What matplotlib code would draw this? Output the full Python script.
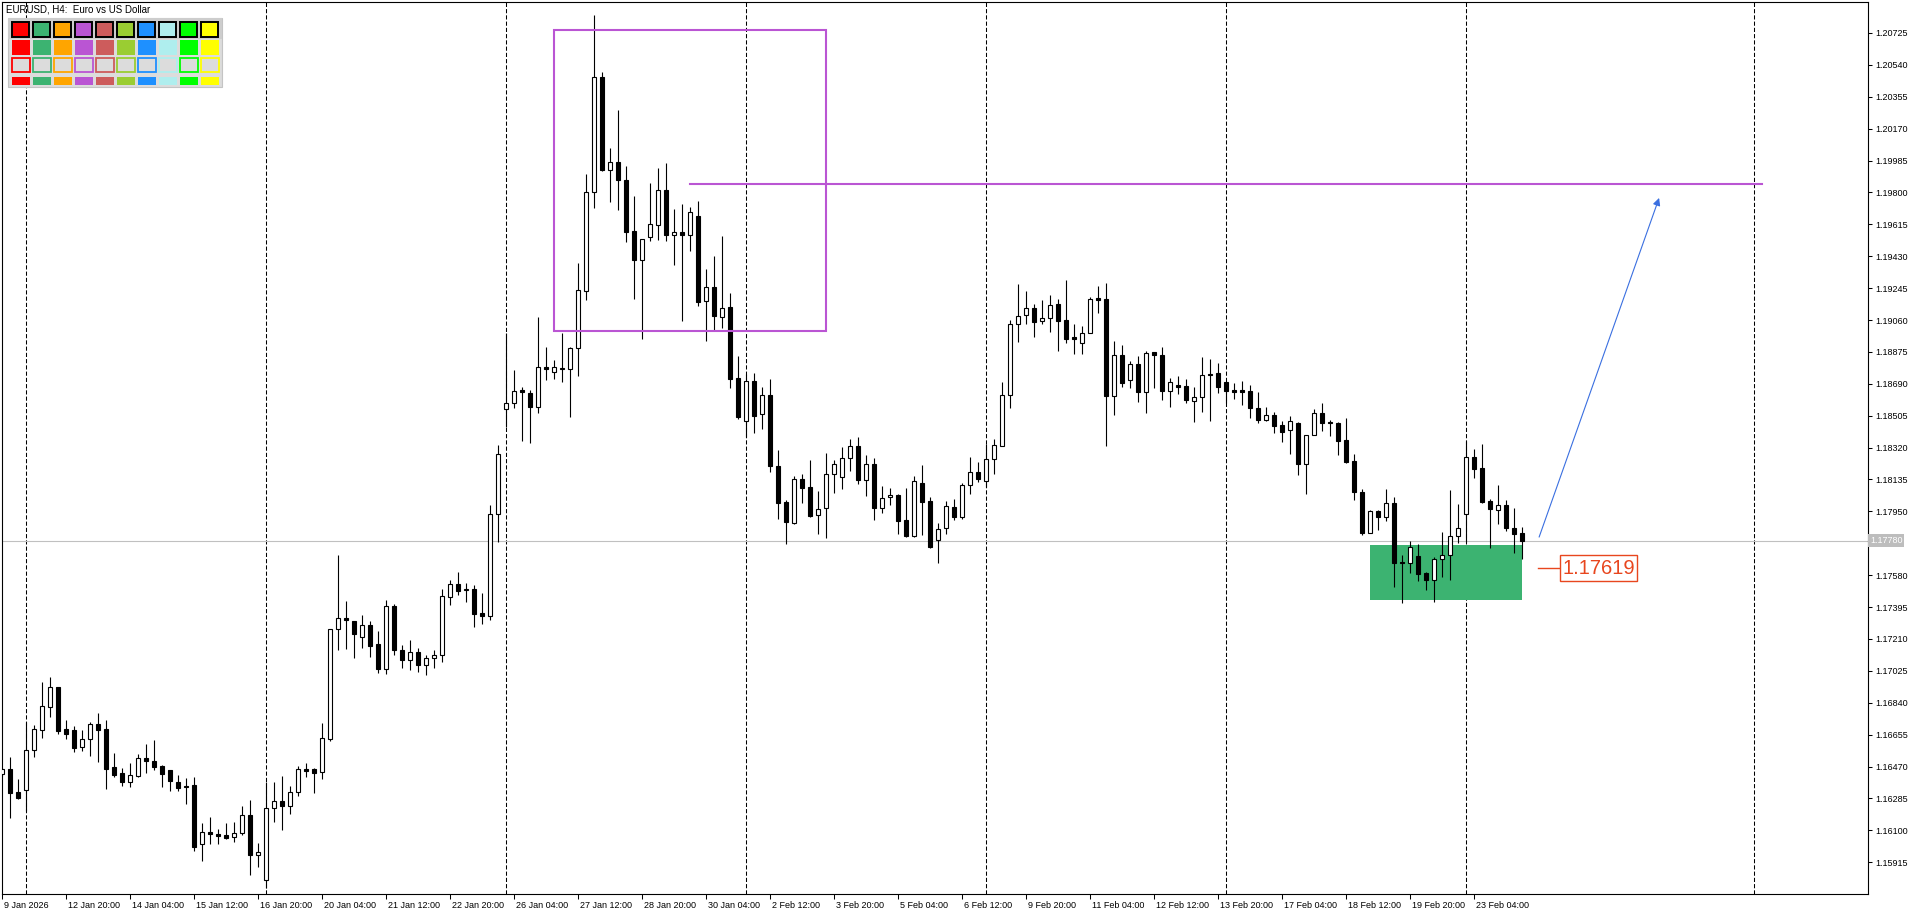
import matplotlib
matplotlib.use("Agg")
import matplotlib.pyplot as plt
from matplotlib.patches import Rectangle
import matplotlib.transforms as mtransforms
import numpy as np

plt.rcParams['font.family'] = ['Liberation Sans', 'DejaVu Sans']

# ---------------- data (EURUSD H4 candles) ----------------
opens = [1.16427,1.16456,1.16322,1.16334,1.16566,1.16682,1.16815,1.16931,1.16688,1.16682,
         1.16583,1.16630,1.16717,1.16688,1.16467,1.16433,1.16380,1.16415,1.16520,1.16502,
         1.16473,1.16450,1.16380,1.16357,1.16363,1.16021,1.16090,1.16079,1.16073,1.16061,
         1.16085,1.16189,1.15957,1.15812,1.16230,1.16270,1.16241,1.16322,1.16456,1.16456,
         1.16438,1.16630,1.17268,1.17332,1.17314,1.17221,1.17291,1.17181,1.17036,1.17401,
         1.17146,1.17088,1.17134,1.17059,1.17100,1.17117,1.17453,1.17529,1.17494,1.17500,
         1.17361,1.17343,1.17935,1.18544,1.18579,1.18654,1.18637,1.18555,1.18787,1.18758,
         1.18776,1.18776,1.18898,1.19228,1.19802,1.20469,1.19930,1.19976,1.19872,1.19576,
         1.19408,1.19541,1.19611,1.19814,1.19553,1.19570,1.19553,1.19663,1.19170,1.19251,
         1.19077,1.19135,1.18724,1.18474,1.18706,1.18515,1.18625,1.18213,1.18004,1.17883,
         1.18138,1.18091,1.17929,1.17970,1.18167,1.18149,1.18260,1.18329,1.18132,1.18225,
         1.17970,1.18033,1.18045,1.17900,1.17807,1.18115,1.18010,1.17784,1.17854,1.17975,
         1.17917,1.18103,1.18178,1.18126,1.18254,1.18329,1.18625,1.19037,1.19089,1.19130,
         1.19054,1.19072,1.19153,1.19060,1.18961,1.18927,1.18985,1.19188,1.19182,1.18619,
         1.18857,1.18712,1.18805,1.18642,1.18874,1.18857,1.18648,1.18683,1.18677,1.18590,
         1.18613,1.18747,1.18753,1.18700,1.18654,1.18654,1.18648,1.18550,1.18480,1.18509,
         1.18451,1.18422,1.18463,1.18225,1.18393,1.18521,1.18468,1.18463,1.18364,1.18242,
         1.18062,1.17825,1.17952,1.17917,1.17999,1.17656,1.17651,1.17691,1.17593,1.17552,
         1.17674,1.17697,1.17807,1.17935,1.18265,1.18202,1.18010,1.17958,1.17987,1.17854,
         1.17825]
highs = [1.16462,1.16525,1.16398,1.16728,1.16711,1.16960,1.16989,1.16931,1.16740,1.16705,
         1.16682,1.16728,1.16781,1.16740,1.16549,1.16462,1.16491,1.16543,1.16601,1.16624,
         1.16479,1.16450,1.16421,1.16404,1.16409,1.16143,1.16177,1.16108,1.16143,1.16148,
         1.16241,1.16276,1.16027,1.16380,1.16380,1.16415,1.16357,1.16473,1.16491,1.16462,
         1.16723,1.17268,1.17697,1.17430,1.17314,1.17349,1.17314,1.17256,1.17436,1.17413,
         1.17175,1.17204,1.17158,1.17117,1.17146,1.17500,1.17552,1.17598,1.17535,1.17523,
         1.17477,1.17987,1.18335,1.18985,1.18770,1.18671,1.18654,1.19077,1.18903,1.18828,
         1.18985,1.18903,1.19391,1.19907,1.20829,1.20498,1.20058,1.20278,1.19953,1.19779,
         1.19530,1.19855,1.19942,1.19971,1.19704,1.19733,1.19715,1.19750,1.19356,1.19431,
         1.19547,1.19217,1.18851,1.18747,1.18753,1.18671,1.18718,1.18306,1.18016,1.18155,
         1.18167,1.18248,1.18068,1.18289,1.18248,1.18323,1.18370,1.18381,1.18277,1.18260,
         1.18097,1.18086,1.18051,1.18086,1.18155,1.18219,1.18033,1.17883,1.18010,1.18022,
         1.18115,1.18265,1.18236,1.18341,1.18370,1.18700,1.19060,1.19269,1.19228,1.19153,
         1.19176,1.19205,1.19182,1.19292,1.19037,1.19025,1.19193,1.19257,1.19275,1.18938,
         1.18915,1.18822,1.18851,1.18880,1.18874,1.18903,1.18724,1.18735,1.18718,1.18671,
         1.18845,1.18834,1.18811,1.18700,1.18695,1.18706,1.18683,1.18642,1.18555,1.18526,
         1.18474,1.18503,1.18468,1.18393,1.18544,1.18579,1.18480,1.18468,1.18492,1.18283,
         1.18080,1.17958,1.17958,1.18080,1.18033,1.17697,1.17778,1.17761,1.17598,1.17685,
         1.17830,1.18074,1.17993,1.18358,1.18312,1.18341,1.18022,1.18103,1.18016,1.17970,
         1.17859]
lows = [1.16415,1.16172,1.16282,1.16212,1.16525,1.16636,1.16757,1.16659,1.16630,1.16554,
        1.16560,1.16531,1.16496,1.16340,1.16409,1.16357,1.16351,1.16409,1.16433,1.16450,
        1.16351,1.16328,1.16328,1.16253,1.15980,1.15922,1.16021,1.16021,1.16050,1.16032,
        1.16073,1.15841,1.15887,1.15766,1.16148,1.16102,1.16195,1.16299,1.16409,1.16317,
        1.16398,1.16618,1.17146,1.17152,1.17100,1.17158,1.17105,1.17013,1.17007,1.17117,
        1.17042,1.17030,1.17018,1.17001,1.17042,1.17076,1.17407,1.17465,1.17424,1.17279,
        1.17297,1.17320,1.17772,1.18439,1.18550,1.18358,1.18347,1.18521,1.18712,1.18718,
        1.18700,1.18497,1.18735,1.19176,1.19710,1.19924,1.19744,1.19698,1.19512,1.19182,
        1.18950,1.19518,1.19524,1.19518,1.19379,1.19054,1.19460,1.19141,1.18938,1.18996,
        1.19014,1.18666,1.18486,1.18381,1.18405,1.18428,1.18178,1.17906,1.17761,1.17877,
        1.17999,1.17917,1.17819,1.17796,1.18057,1.18080,1.18184,1.18109,1.18039,1.17900,
        1.17941,1.17987,1.17819,1.17801,1.17801,1.17813,1.17738,1.17651,1.17819,1.17900,
        1.17906,1.18051,1.18120,1.18091,1.18167,1.18329,1.18550,1.18932,1.19037,1.18961,
        1.19037,1.18990,1.18880,1.18927,1.18863,1.18863,1.18985,1.19101,1.18329,1.18509,
        1.18671,1.18666,1.18584,1.18521,1.18666,1.18596,1.18555,1.18631,1.18579,1.18468,
        1.18526,1.18474,1.18637,1.18579,1.18602,1.18567,1.18492,1.18463,1.18474,1.18405,
        1.18352,1.18283,1.18161,1.18051,1.18393,1.18416,1.18387,1.18277,1.18231,1.18016,
        1.17813,1.17825,1.17842,1.17894,1.17511,1.17419,1.17593,1.17546,1.17494,1.17424,
        1.17569,1.17552,1.17767,1.17772,1.18144,1.17999,1.17738,1.17877,1.17836,1.17709,
        1.17674]
closes = [1.16456,1.16317,1.16288,1.16566,1.16688,1.16821,1.16931,1.16676,1.16659,1.16578,
          1.16630,1.16717,1.16682,1.16456,1.16421,1.16380,1.16421,1.16520,1.16502,1.16467,
          1.16427,1.16386,1.16346,1.16351,1.16003,1.16090,1.16079,1.16067,1.16056,1.16085,
          1.16189,1.15957,1.15974,1.16230,1.16270,1.16241,1.16322,1.16456,1.16444,1.16433,
          1.16636,1.17268,1.17332,1.17320,1.17239,1.17291,1.17169,1.17036,1.17401,1.17146,
          1.17088,1.17134,1.17059,1.17100,1.17117,1.17459,1.17529,1.17488,1.17500,1.17355,
          1.17343,1.17935,1.18283,1.18579,1.18648,1.18642,1.18555,1.18787,1.18776,1.18787,
          1.18782,1.18898,1.19234,1.19802,1.20469,1.19930,1.19976,1.19872,1.19570,1.19408,
          1.19530,1.19617,1.19814,1.19553,1.19570,1.19553,1.19686,1.19164,1.19251,1.19083,
          1.19130,1.18718,1.18497,1.18706,1.18503,1.18625,1.18213,1.17999,1.17888,1.18138,
          1.18086,1.17923,1.17964,1.18167,1.18225,1.18260,1.18329,1.18132,1.18225,1.17970,
          1.18028,1.18045,1.17894,1.17807,1.18126,1.18004,1.17743,1.17848,1.17981,1.17917,
          1.18103,1.18178,1.18138,1.18254,1.18335,1.18625,1.19037,1.19083,1.19130,1.19048,
          1.19072,1.19147,1.19054,1.18950,1.18950,1.18985,1.19182,1.19176,1.18619,1.18857,
          1.18695,1.18805,1.18642,1.18869,1.18857,1.18648,1.18700,1.18671,1.18596,1.18613,
          1.18741,1.18741,1.18671,1.18648,1.18642,1.18642,1.18550,1.18480,1.18509,1.18445,
          1.18410,1.18474,1.18225,1.18393,1.18521,1.18463,1.18463,1.18358,1.18236,1.18062,
          1.17825,1.17952,1.17917,1.17999,1.17651,1.17651,1.17743,1.17587,1.17552,1.17674,
          1.17697,1.17807,1.17854,1.18265,1.18196,1.18004,1.17964,1.17987,1.17854,1.17819,
          1.17780]

x_label_idx = [0, 8, 16, 24, 32, 40, 48, 56, 64, 72, 80, 88, 96, 104, 112, 120,
               128, 136, 144, 152, 160, 168, 176, 184]
x_labels = ["9 Jan 2026", "12 Jan 20:00", "14 Jan 04:00", "15 Jan 12:00", "16 Jan 20:00",
            "20 Jan 04:00", "21 Jan 12:00", "22 Jan 20:00", "26 Jan 04:00", "27 Jan 12:00",
            "28 Jan 20:00", "30 Jan 04:00", "2 Feb 12:00", "3 Feb 20:00", "5 Feb 04:00",
            "6 Feb 12:00", "9 Feb 20:00", "11 Feb 04:00", "12 Feb 12:00", "13 Feb 20:00",
            "17 Feb 04:00", "18 Feb 12:00", "19 Feb 20:00", "23 Feb 04:00"]
week_sep_idx = [3, 33, 63, 93, 123, 153, 183, 219]
y_ticks = [1.15915, 1.16100, 1.16285, 1.16470, 1.16655, 1.16840, 1.17025, 1.17210,
           1.17395, 1.17580, 1.17765, 1.17950, 1.18135, 1.18320, 1.18505, 1.18690,
           1.18875, 1.19060, 1.19245, 1.19430, 1.19615, 1.19800, 1.19985, 1.20170,
           1.20355, 1.20540, 1.20725]
current_price = 1.17780

# drawing objects
box_idx = [69, 103]
box_price = [1.18996, 1.20744]
hline_idx = [86, 220]
hline_price = 1.19849
zone_idx = [171, 190]
zone_price = [1.17435, 1.17755]
arrow_from = (192.1, 1.17801)
arrow_to = (207.1, 1.19768)
label_price = 1.17619
label_line_idx = [192.0, 194.7]
label_box_idx = [194.7, 204.3]
label_box_price = [1.17546, 1.17697]

palette = ['#FF0000', '#3CB371', '#FFA500', '#BA55D3', '#CD5C5C',
           '#9ACD32', '#1E90FF', '#AFEEEE', '#00FF00', '#FFFF00']

# ---------------- figure ----------------
W, H = 1920, 915
fig = plt.figure(figsize=(W / 100, H / 100), dpi=100, facecolor='white')
ax = fig.add_axes([2 / W, 1 - 894 / H, 1866 / W, 892 / H])
ax.set_facecolor('white')

o = np.array(opens); h = np.array(highs); l = np.array(lows); c = np.array(closes)
x = np.arange(len(o))
up = c >= o

for xi in week_sep_idx:
    ax.axvline(xi, color='black', lw=0.75, dashes=(4, 2), zorder=1)
ax.axhline(current_price, color='#C0C0C0', lw=0.8, zorder=1.5)

ax.add_patch(Rectangle((zone_idx[0], zone_price[0]), zone_idx[1] - zone_idx[0],
                       zone_price[1] - zone_price[0], fc='#3CB371', ec='none', zorder=2))

ax.vlines(x, l, h, color='black', lw=0.8, zorder=3)
bottoms = np.minimum(o, c)
heights = np.maximum(np.abs(c - o), 0.00002)
ax.bar(x, heights, bottom=bottoms, width=0.5,
       color=np.where(up, 'white', 'black'), edgecolor='black', linewidth=0.8, zorder=4)

ax.add_patch(Rectangle((box_idx[0], box_price[0]), box_idx[1] - box_idx[0],
                       box_price[1] - box_price[0], fill=False, ec='#BA55D3', lw=1.5, zorder=5))
ax.plot(hline_idx, [hline_price, hline_price], color='#BA55D3', lw=1.5, zorder=5)

ax.annotate('', xy=arrow_to, xytext=arrow_from,
            arrowprops=dict(arrowstyle='-|>', color='#3A6FE0', lw=0.8,
                            mutation_scale=11, shrinkA=0, shrinkB=0), zorder=6)

ax.plot(label_line_idx, [label_price, label_price], color='#E8461E', lw=1.0, zorder=6)
ax.add_patch(Rectangle((label_box_idx[0], label_box_price[0]), label_box_idx[1] - label_box_idx[0],
                       label_box_price[1] - label_box_price[0], fc='white', ec='#E8461E',
                       lw=1.0, zorder=6))
ax.text((label_box_idx[0] + label_box_idx[1]) / 2, (label_box_price[0] + label_box_price[1]) / 2,
        f"{label_price:.5f}", color='#E8461E', fontsize=14.5, ha='center', va='center', zorder=7)

ax.set_xlim(-0.0375, 233.21)
ax.set_ylim(1.157308, 1.209044)

# axes styling
for sp in ax.spines.values():
    sp.set_color('black')
    sp.set_linewidth(0.8)
ax.yaxis.tick_right()
ax.set_yticks(y_ticks)
# the tick label right under the current-price tag is hidden by it in the reference
ax.set_yticklabels(['' if abs(v - current_price) < 0.0003 else f"{v:.5f}" for v in y_ticks])
ax.tick_params(axis='y', direction='out', length=3, width=0.75, pad=2, labelsize=6.5,
               colors='black')
ax.set_xticks(x_label_idx)
ax.set_xticklabels(x_labels, ha='left')
ax.tick_params(axis='x', direction='out', length=3.5, width=0.75, pad=1.5, labelsize=6.5)
offset = mtransforms.ScaledTranslation(2 / 100, 0, fig.dpi_scale_trans)
for lbl in ax.get_xticklabels():
    lbl.set_transform(lbl.get_transform() + offset)

ax.text(1.0011, current_price, f"{current_price:.5f}", transform=ax.get_yaxis_transform(),
        ha='left', va='center', fontsize=6.5, color='white', zorder=10, clip_on=False,
        bbox=dict(boxstyle='square,pad=0.2', fc='#BDBDBD', ec='none'))

# ---------------- overlay: title and colour palette ----------------
ov = fig.add_axes([0, 0, 1, 1], zorder=10)
ov.set_xlim(0, W)
ov.set_ylim(H, 0)
ov.axis('off')
ov.patch.set_alpha(0)

ov.text(6.5, 9.5, "EURUSD, H4:  Euro vs US Dollar", fontsize=7, ha='left', va='center')
ov.add_patch(Rectangle((8, 18), 214, 69, fc='#DCDCDC', ec='#C4C4C4', lw=0.8))
ov.add_patch(Rectangle((8, 18), 214, 20.5, fc='#CDCDCD', ec='none'))
for k, col in enumerate(palette):
    x0 = 11.7 + 21.03 * k
    ov.add_patch(Rectangle((x0, 21.7), 17.5, 15.3, fc=col, ec='black', lw=1.4))
    ov.add_patch(Rectangle((x0, 40.3), 18.3, 14.7, fc=col, ec='none'))
    ov.add_patch(Rectangle((x0 + 0.5, 58.2), 17.3, 13.6, fc='#DCDCDC', ec=col, lw=1.3))
    ov.add_patch(Rectangle((x0, 76.7), 18.3, 8.3, fc=col, ec='none'))

fig.savefig('out.png', dpi=100, facecolor='white')
